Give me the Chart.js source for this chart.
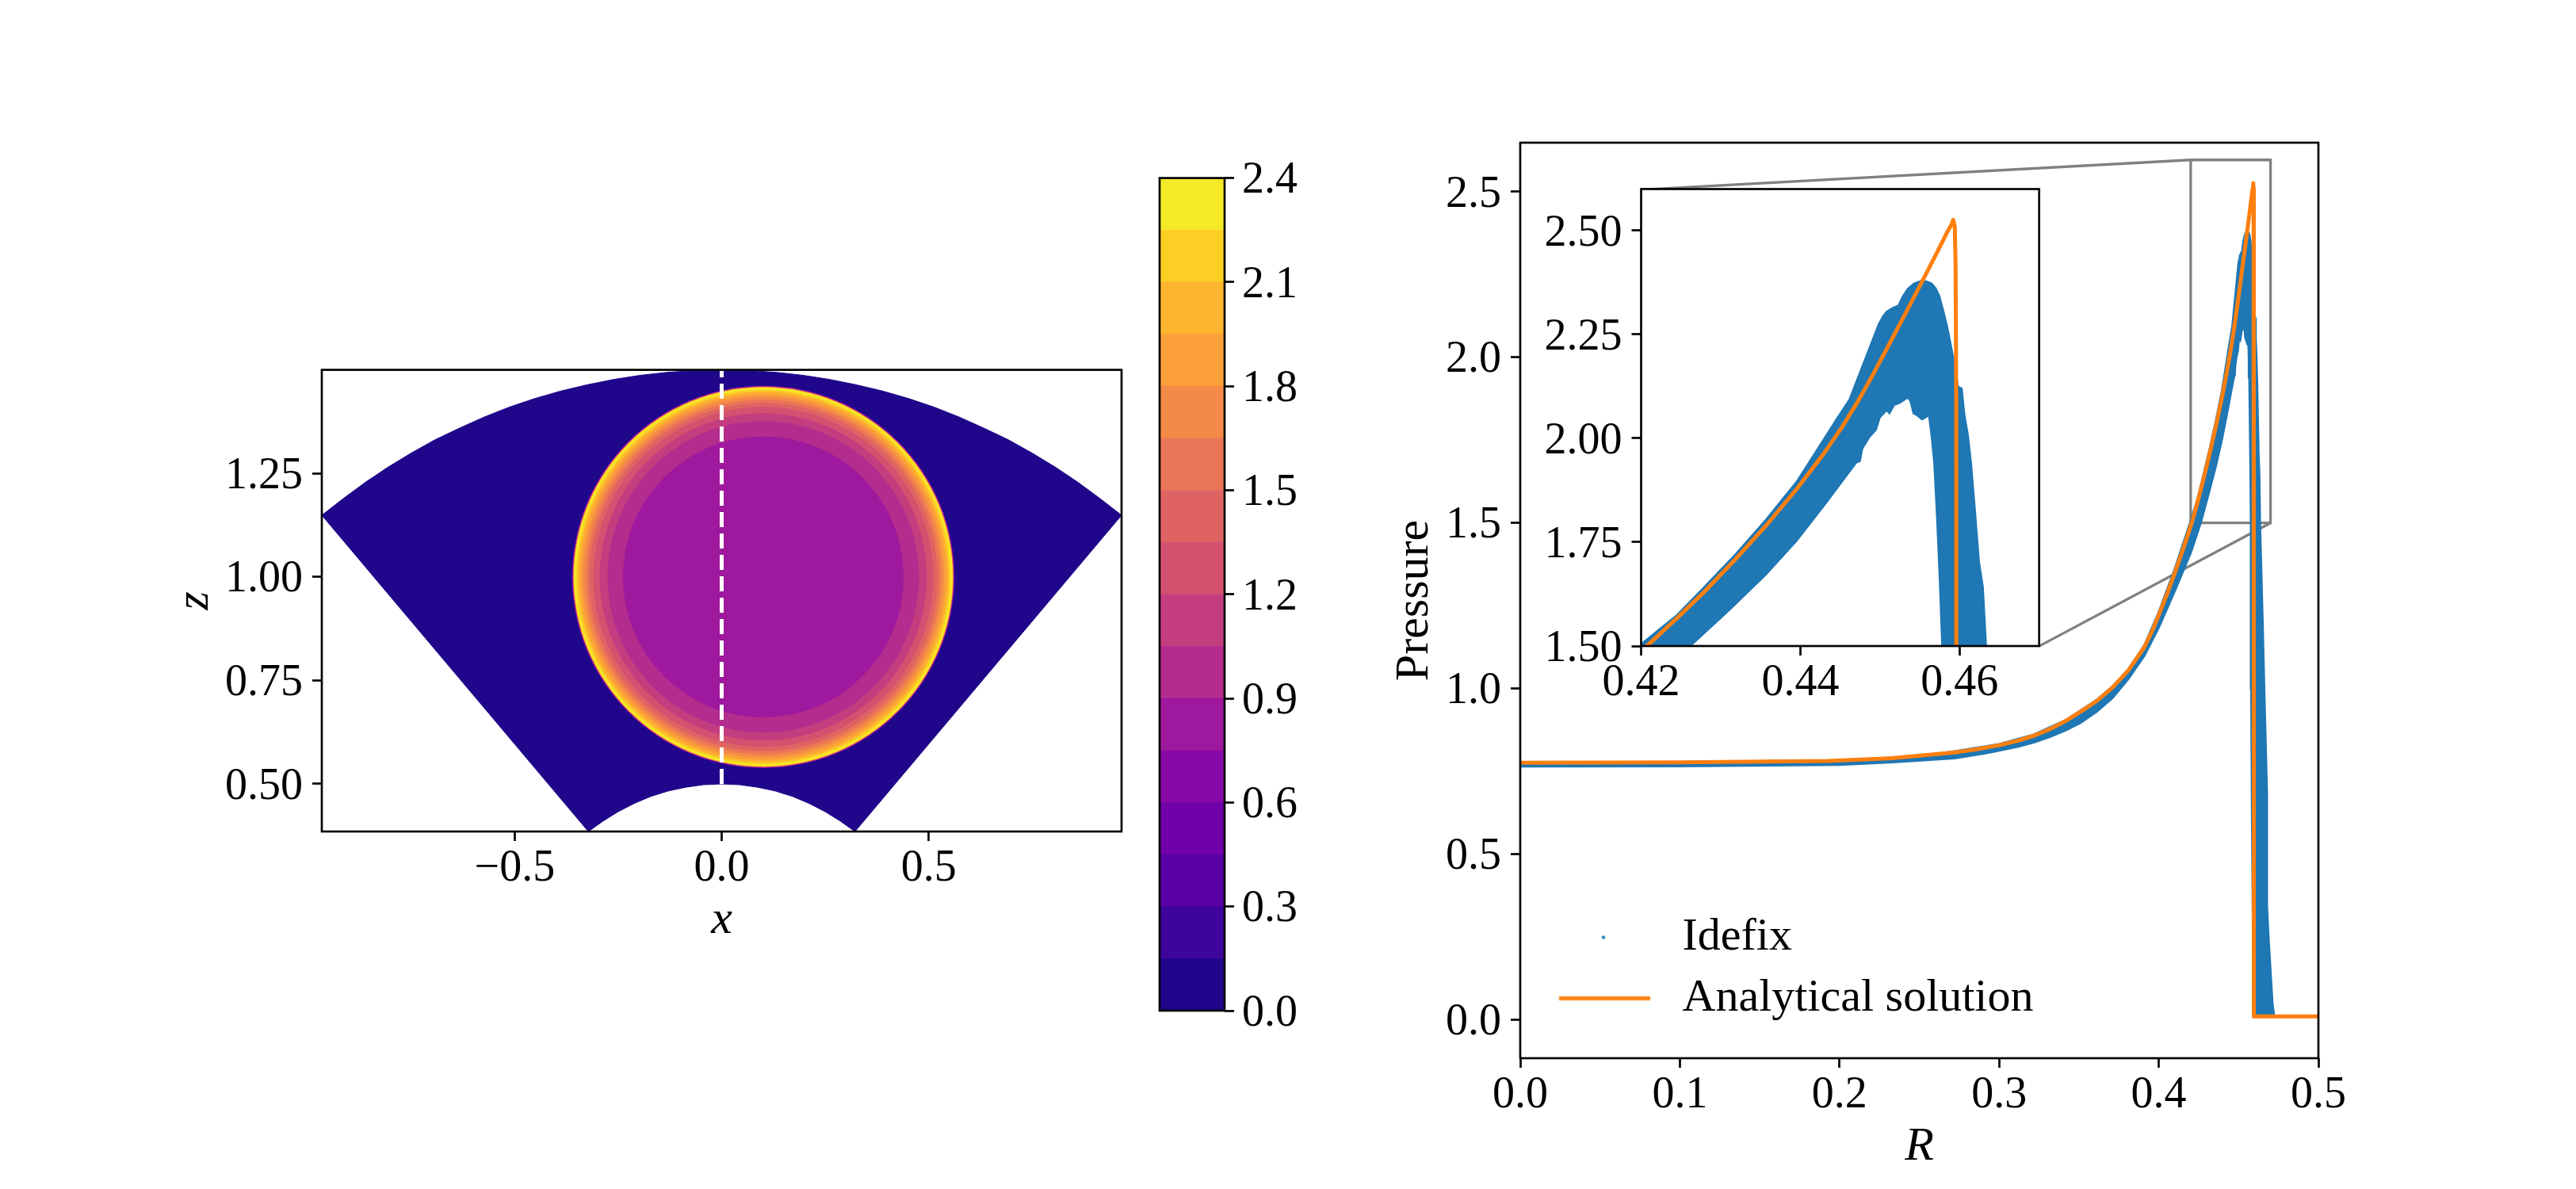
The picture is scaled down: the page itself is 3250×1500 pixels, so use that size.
<!DOCTYPE html>
<html><head><meta charset="utf-8">
<style>html,body{margin:0;padding:0;background:#fff;width:3250px;height:1500px;overflow:hidden}
canvas{position:absolute;left:0;top:0}</style>
<script src="https://cdn.jsdelivr.net/npm/chart.js@4"></script>
</head><body>
<canvas id="cMap" width="3250" height="1500"></canvas>
<canvas id="cBar" width="3250" height="1500"></canvas>
<canvas id="cMain" width="3250" height="1500"></canvas>
<canvas id="cInset" width="3250" height="1500"></canvas>
<script>
// ---- colour levels
const levels = [0,0.15,0.3,0.45,0.6,0.75,0.9,1.05,1.2,1.35,1.5,1.65,1.8,1.95,2.1,2.25,2.4];
const levelColors = ['#20068a','#3e049c','#5a01a5','#7100a8','#8808a6','#9e199d','#b32c8e','#c43e7f','#d45270','#e06363','#ea7557','#f48a47','#fb9f3a','#fdb42f','#fccf25','#f4ea27'];
// ---- sector outline (x, z)
const sectorX = [-0.966,-0.913,-0.860,-0.806,-0.750,-0.693,-0.634,-0.574,-0.513,-0.451,-0.388,-0.325,-0.260,-0.196,-0.131,-0.065,0,0.065,0.131,0.196,0.260,0.325,0.388,0.451,0.513,0.574,0.634,0.693,0.750,0.806,0.860,0.913,0.966,0.322,0.287,0.250,0.211,0.171,0.129,0.087,0.044,0,-0.044,-0.087,-0.129,-0.171,-0.211,-0.250,-0.287,-0.322,-0.966];
const sectorZ = [1.149,1.190,1.229,1.265,1.299,1.331,1.359,1.386,1.410,1.431,1.449,1.464,1.477,1.487,1.494,1.4985,1.5,1.4985,1.494,1.487,1.477,1.464,1.449,1.431,1.410,1.386,1.359,1.331,1.299,1.265,1.229,1.190,1.149,0.385,0.410,0.433,0.453,0.470,0.483,0.492,0.498,0.5,0.498,0.492,0.483,0.470,0.453,0.433,0.410,0.385,1.149];
// ---- blast-wave rings: centre, outer radius and colour band of each ring
const ringCentreX = [0.1005];
const ringCentreZ = [1.0];
const ringRadius = [0.4620,0.4616,0.4612,0.4609,0.4605,0.4602,0.4598,0.4594,0.4591,0.4587,0.4584,0.4580,0.4577,0.4573,0.4570,0.4525,0.4480,0.4429,0.4362,0.4286,0.4209,0.4106,0.3953,0.3762,0.3392];
const ringBand   = [1,2,3,4,5,6,7,8,9,10,11,12,13,14,15,14,13,12,11,10,9,8,7,6,5];
// ---- dashed cut
const cutX = [0,0];
const cutZ = [0.5,1.5];
// ---- Idefix cloud envelope
const blueUpperR = [0,0.1,0.2,0.25,0.272,0.30,0.322,0.342,0.361,0.371,0.381,0.391,0.40,0.41,0.4155,0.42,0.4245,0.4278,0.4318,0.4357,0.4395,0.44286,0.4445,0.44617,0.44817,0.44983,0.45035,0.45083,0.4515,0.45232,0.4528,0.45349,0.4543,0.45515,0.4558,0.45648,0.457,0.45747,0.458,0.45847,0.4589,0.4593,0.4597,0.4598,0.46029,0.46063,0.46106,0.46146,0.46196,0.46246,0.46295,0.46335,0.465,0.466,0.4677,0.4677,0.4688,0.47,0.4712,0.4722];
const blueUpperP = [0.778,0.778,0.783,0.795,0.81,0.832,0.861,0.905,0.965,1.006,1.058,1.13,1.23,1.36,1.44,1.505,1.575,1.64,1.72,1.805,1.895,1.9956,2.045,2.094,2.193,2.275,2.293,2.305,2.313,2.32,2.34,2.36,2.373,2.379,2.378,2.373,2.362,2.343,2.305,2.268,2.227,2.186,2.14,2.125,2.12,2.057,2.009,1.941,1.825,1.703,1.642,1.5,1.2,1.0,0.685,0.343,0.239,0.143,0.048,0.012];
const blueLowerR = [0,0.1,0.2,0.233,0.272,0.292,0.312,0.322,0.332,0.342,0.351,0.361,0.371,0.381,0.391,0.40,0.41,0.42,0.4262,0.431,0.4357,0.4395,0.44303,0.44702,0.4475,0.4478,0.44867,0.4495,0.45,0.45083,0.4512,0.4518,0.4525,0.45349,0.4538,0.4542,0.4545,0.4553,0.45614,0.4565,0.4568,0.45713,0.45747,0.4578,0.458,0.4585,0.4595];
const blueLowerP = [0.7655,0.766,0.77,0.778,0.79,0.805,0.825,0.838,0.855,0.875,0.897,0.93,0.972,1.03,1.10,1.185,1.295,1.41,1.5,1.585,1.672,1.752,1.839,1.941,1.945,1.975,2.0025,2.02,2.05,2.067,2.06,2.08,2.085,2.098,2.09,2.06,2.057,2.045,2.055,2.0,1.941,1.818,1.669,1.5,1.0,0.6,0.012];
// ---- analytical solution
const solR = [0,0.1,0.193,0.233,0.272,0.285,0.30,0.312,0.322,0.332,0.342,0.351,0.361,0.371,0.381,0.391,0.396,0.40,0.405,0.41,0.4155,0.421,0.4245,0.4278,0.4318,0.4357,0.4395,0.4429,0.4452,0.44717,0.4492,0.45115,0.4533,0.45548,0.457,0.4585,0.4590,0.4592,0.4594,0.4595,0.45958,0.4596,0.4596,0.5];
const solP = [0.776,0.777,0.7815,0.79,0.807,0.816,0.829,0.843,0.858,0.878,0.903,0.93,0.962,1.003,1.055,1.125,1.175,1.222,1.283,1.349,1.425,1.505,1.567,1.628,1.708,1.79,1.877,1.962,2.026,2.087,2.156,2.226,2.304,2.384,2.441,2.498,2.515,2.526,2.51,2.42,2.1,1.5,0.01,0.01];
// ---- inset indicator in main-axes data units
const zoomBoxR = [0.42,0.47,0.47,0.42,0.42];
const zoomBoxP = [1.5,1.5,2.596,2.596,1.5];
const linkTopR = [0.0757,0.42];
const linkTopP = [2.506,2.596];
const linkBotR = [0.3251,0.47];
const linkBotP = [1.128,1.5];
// ---- ticks
const mapXTicks = [-0.5,0,0.5];
const mapZTicks = [0.5,0.75,1,1.25];
const barTicks = [0,0.3,0.6,0.9,1.2,1.5,1.8,2.1,2.4];
const mainXTicks = [0,0.1,0.2,0.3,0.4,0.5];
const mainYTicks = [0,0.5,1,1.5,2,2.5];
const insetXTicks = [0.42,0.44,0.46];
const insetYTicks = [1.5,1.75,2,2.25,2.5];
const legendLabels = ['Idefix','Analytical solution'];

const FONT = '"Liberation Serif"';
const TICK_FS = 56, TITLE_FS = 60, LEGEND_FS = 58, TW = 2.67, TL = 12, YSHIFT = 4;
const BLUE = '#1f77b4', ORANGE = '#ff7f0e', GREY = '#808080';
const pts = (xs, ys) => xs.map((x, i) => ({x, y: ys[i]}));

const framePlugin = {
  id: 'frame',
  beforeDraw(chart, args, o) {
    if (!o.fill) return;
    const a = chart.chartArea;
    chart.ctx.save(); chart.ctx.fillStyle = o.fill;
    chart.ctx.fillRect(a.left, a.top, a.right - a.left, a.bottom - a.top);
    chart.ctx.restore();
  },
  afterDatasetsDraw(chart) {
    const a = chart.chartArea, c = chart.ctx;
    c.save(); c.strokeStyle = '#000'; c.lineWidth = TW;
    c.strokeRect(a.left, a.top, a.right - a.left, a.bottom - a.top);
    c.restore();
  }
};
function axis(o) {
  const horizontal = o.horizontal;
  return {
    type: 'linear', min: o.min, max: o.max, position: o.position,
    afterBuildTicks(s) { s.ticks = o.ticks.map(v => ({value: v})); },
    afterFit(s) {
      if (horizontal) s.height = o.size; else s.width = o.size;
      s.paddingLeft = s.paddingRight = s.paddingTop = s.paddingBottom = 0;
      if (!horizontal && !s._shifted) {
        s._shifted = true;
        const compute = s._computeLabelItems;
        s._computeLabelItems = function (area) {
          const items = compute.call(this, area);
          items.forEach(it => { it.options.translation[1] += YSHIFT; });
          return items;
        };
      }
    },
    grid: {display: true, drawOnChartArea: false, drawTicks: true, tickLength: TL, tickWidth: TW, tickColor: '#000', color: '#000'},
    border: {display: false},
    ticks: {
      color: '#000', padding: o.pad, autoSkip: false, maxRotation: 0, minRotation: 0,
      font: {family: FONT, size: TICK_FS, lineHeight: 1},
      callback: v => v.toFixed(o.dec).replace('-', '\u2212')
    },
    title: o.title ? {display: true, text: o.title, color: '#000', padding: 0,
      font: {family: FONT, size: TITLE_FS, lineHeight: 1, style: o.italic ? 'italic' : 'normal'}} : {display: false}
  };
}
function box(L, T, R, B, w, h, extraRight) {
  return {padding: {left: L - (extraRight ? 0 : w), top: T, right: 3250 - R - (extraRight ? w : 0), bottom: 1500 - B - h}};
}
const base = {responsive: false, animation: false, devicePixelRatio: 1, events: []};

// ---------- contour map
const ringDatasets = ringRadius.map((r, i) => ({
  label: 'p' + i,
  data: pts(ringCentreX, ringCentreZ),
  order: 60 - i,
  pointRadius: ctx => { const s = ctx.chart.scales.x; return s.getPixelForValue(ringCentreX[0] + r) - s.getPixelForValue(ringCentreX[0]); },
  pointBackgroundColor: levelColors[ringBand[i]],
  pointBorderWidth: 0,
  showLine: false
}));
new Chart(document.getElementById('cMap'), {
  type: 'scatter',
  data: {datasets: [
    {label: 'sector', data: pts(sectorX, sectorZ), showLine: true, fill: 'shape', backgroundColor: levelColors[0], borderColor: levelColors[0], borderWidth: 1, pointRadius: 0, order: 100},
    ...ringDatasets,
    {label: 'cut', data: pts(cutX, cutZ), showLine: true, borderColor: '#fff', borderWidth: 5, borderDash: [19, 8], pointRadius: 0, order: 0}
  ]},
  options: {...base,
    layout: box(406, 466.6, 1415, 1049, 190, 142),
    plugins: {legend: {display: false}, tooltip: {enabled: false}, frame: {}},
    scales: {
      x: axis({horizontal: true, min: -0.966, max: 0.966, position: 'bottom', ticks: mapXTicks, dec: 1, size: 142, pad: 7, title: 'x', italic: true}),
      y: axis({horizontal: false, min: 0.3851, max: 1.5, position: 'left', ticks: mapZTicks, dec: 2, size: 190, pad: 12, title: 'z', italic: true})
    }
  },
  plugins: [framePlugin]
});

// ---------- colour bar
new Chart(document.getElementById('cBar'), {
  type: 'bar',
  data: {labels: [''], datasets: levelColors.map((c, i) => ({
    label: 'b' + i, data: [[levels[i], levels[i + 1]]], backgroundColor: c, borderWidth: 0,
    barPercentage: 1, categoryPercentage: 1, grouped: false
  }))},
  options: {...base,
    layout: box(1463, 224.6, 1545, 1275, 100, 0, true),
    plugins: {legend: {display: false}, tooltip: {enabled: false}, frame: {}},
    scales: {
      x: {display: false},
      y: axis({horizontal: false, min: 0, max: 2.4, position: 'right', ticks: barTicks, dec: 1, size: 100, pad: 10})
    }
  },
  plugins: [framePlugin]
});

// ---------- pressure profile
function profileSets(w) {
  return [
    {label: 'Idefix', data: pts(blueUpperR, blueUpperP).concat(pts(blueLowerR, blueLowerP).reverse()), showLine: true, fill: 'shape', backgroundColor: BLUE, borderColor: BLUE, borderWidth: w, pointRadius: 0, order: 5},
    {label: 'Analytical solution', data: pts(solR, solP), showLine: true, borderColor: ORANGE, borderWidth: 5, borderJoinStyle: 'round', pointRadius: 0, order: 1}
  ];
}
function marker(draw) {
  const c = document.createElement('canvas'); c.width = 131; c.height = 8;
  draw(c.getContext('2d')); return c;
}
const dotMark = marker(g => { g.fillStyle = BLUE; g.beginPath(); g.arc(60.5, 4, 2.2, 0, 7); g.fill(); });
const lineMark = marker(g => { g.fillStyle = ORANGE; g.fillRect(4.5, 1.5, 115, 5); });
const legendPlace = {
  id: 'legendPlace',
  afterLayout(chart) {
    const l = chart.legend;
    l.left = 1943.5; l.top = 1134.5; l.right = 2700; l.bottom = 1330; l.width = 757; l.height = 196;
  }
};
new Chart(document.getElementById('cMain'), {
  type: 'scatter',
  data: {datasets: [
    ...profileSets(3),
    {label: 'box', data: pts(zoomBoxR, zoomBoxP), showLine: true, borderColor: GREY, borderWidth: 3.3, pointRadius: 0, order: 9},
    {label: 'top', data: pts(linkTopR, linkTopP), showLine: true, borderColor: GREY, borderWidth: 3.3, pointRadius: 0, order: 9},
    {label: 'bot', data: pts(linkBotR, linkBotP), showLine: true, borderColor: GREY, borderWidth: 3.3, pointRadius: 0, order: 9}
  ]},
  options: {...base,
    layout: box(1918, 180, 2925, 1335, 163, 142),
    plugins: {
      tooltip: {enabled: false}, frame: {},
      legend: {display: true, position: 'chartArea', align: 'start', labels: {
        usePointStyle: true, pointStyleWidth: 131, boxHeight: 8, padding: 19, color: '#000',
        font: {family: FONT, size: LEGEND_FS, lineHeight: 1},
        generateLabels: () => [
          {text: legendLabels[0], pointStyle: dotMark, fillStyle: BLUE, strokeStyle: BLUE, lineWidth: 0, hidden: false},
          {text: legendLabels[1], pointStyle: lineMark, fillStyle: ORANGE, strokeStyle: ORANGE, lineWidth: 0, hidden: false}
        ]
      }}
    },
    scales: {
      x: axis({horizontal: true, min: 0, max: 0.5, position: 'bottom', ticks: mainXTicks, dec: 1, size: 142, pad: 7, title: 'R', italic: true}),
      y: axis({horizontal: false, min: -0.116, max: 2.648, position: 'left', ticks: mainYTicks, dec: 1, size: 163, pad: 12, title: 'Pressure'})
    }
  },
  plugins: [framePlugin, legendPlace]
});

// ---------- inset
new Chart(document.getElementById('cInset'), {
  type: 'scatter',
  data: {datasets: profileSets(2)},
  options: {...base,
    layout: box(2070.5, 238.5, 2572.7, 815, 150, 100),
    plugins: {legend: {display: false}, tooltip: {enabled: false}, frame: {fill: '#fff'}},
    scales: {
      x: axis({horizontal: true, min: 0.42, max: 0.47, position: 'bottom', ticks: insetXTicks, dec: 2, size: 100, pad: 7}),
      y: axis({horizontal: false, min: 1.5, max: 2.6, position: 'left', ticks: insetYTicks, dec: 2, size: 150, pad: 12})
    }
  },
  plugins: [framePlugin]
});
</script>
</body></html>
